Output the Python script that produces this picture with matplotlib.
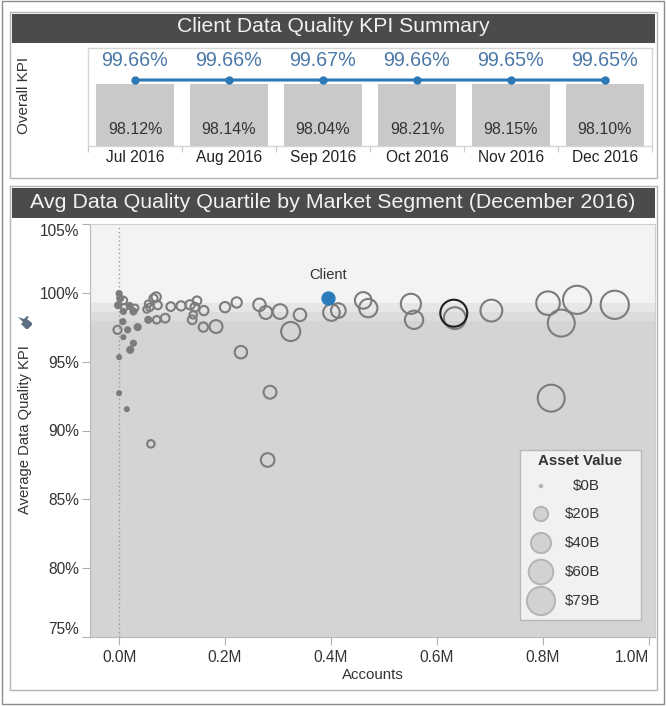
import matplotlib
matplotlib.use("Agg")
import matplotlib.pyplot as plt
from matplotlib.patches import Rectangle, Polygon
import numpy as np

plt.rcParams['font.family'] = ['Liberation Sans', 'DejaVu Sans']

# ---------------- data ----------------
months = ["Jul 2016", "Aug 2016", "Sep 2016", "Oct 2016", "Nov 2016", "Dec 2016"]
overall_kpi = [99.66, 99.66, 99.67, 99.66, 99.65, 99.65]
bar_kpi = [98.12, 98.14, 98.04, 98.21, 98.15, 98.10]

seg_accounts = [0.000, 0.002, 0.008, -0.002, 0.010, 0.020, 0.030, 0.027, 0.008, 0.055,
                0.065, 0.073, 0.058, 0.052, 0.070, 0.0975, 0.117, 0.134, 0.147, 0.143,
                0.160, 0.140, 0.138, 0.159, 0.183, 0.200, 0.222, 0.265, 0.277, 0.304,
                0.3415, 0.324, 0.230, 0.285, 0.2805, 0.060, 0.071, 0.087, 0.055, 0.035,
                0.016, -0.003, 0.007, 0.008, 0.027, 0.021, 0.000, 0.000, 0.0145, 0.461,
                0.4705, 0.401, 0.414, 0.551, 0.557, 0.634, 0.703, 0.810, 0.865, 0.835,
                0.936, 0.816]
seg_kpi = [99.95, 99.60, 99.45, 99.10, 98.95, 99.05, 98.90, 98.65, 98.65, 99.20,
           99.60, 99.10, 98.95, 98.80, 99.70, 99.00, 99.05, 99.13, 99.42, 98.96,
           98.71, 98.40, 98.04, 97.51, 97.55, 98.96, 99.30, 99.13, 98.57, 98.64,
           98.40, 97.19, 95.69, 92.78, 87.86, 89.03, 98.04, 98.16, 98.04, 97.51,
           97.31, 97.31, 97.91, 96.78, 96.34, 95.86, 95.33, 92.71, 91.55, 99.45,
           98.89, 98.57, 98.71, 99.20, 98.04, 98.16, 98.71, 99.25, 99.49, 97.80,
           99.13, 92.35]
seg_assets = [2, 3, 5, 3, 4, 3, 4, 3, 2, 4,
              6, 6, 5, 4, 8, 7, 8, 8, 7, 7,
              8, 5, 7, 8, 16, 10, 10, 15, 16, 21,
              15, 36, 15, 16, 18, 5, 5, 7, 3, 3,
              2, 6, 2, 1, 2, 3, 1, 1, 1, 27,
              33, 27, 21, 40, 33, 47, 47, 55, 79, 72,
              79, 72]
highlight_accounts = [0.632]
highlight_kpi = [98.52]
highlight_assets = [72]

client_accounts = [0.395]
client_kpi = [99.65]
client_assets = [16]

quartile_bounds = [75.0, 97.97, 98.62, 99.27, 105.0]
quartile_colors = ['#d4d4d4', '#dcdcdc', '#e6e6e6', '#f2f3f5']

legend_values = [0, 20, 40, 60, 79]
legend_labels = ["$0B", "$20B", "$40B", "$60B", "$79B"]

y_ticks = [75, 80, 85, 90, 95, 100, 105]
y_ticklabels = ["75%", "80%", "85%", "90%", "95%", "100%", "105%"]
x_ticks = [0.0, 0.2, 0.4, 0.6, 0.8, 1.0]
x_ticklabels = ["0.0M", "0.2M", "0.4M", "0.6M", "0.8M", "1.0M"]

# ---------------- layout helpers ----------------
W, H = 666, 706
fig = plt.figure(figsize=(W / 100, H / 100), dpi=100)
fig.patch.set_facecolor('white')


def fr(x0, y0, x1, y1):
    return [x0 / W, 1 - y1 / H, (x1 - x0) / W, (y1 - y0) / H]


def rect(x0, y0, x1, y1, fc='none', ec='none', lw=1.0, z=0):
    r = Rectangle((x0 / W, 1 - y1 / H), (x1 - x0) / W, (y1 - y0) / H,
                  transform=fig.transFigure, facecolor=fc, edgecolor=ec, lw=lw, zorder=z)
    fig.add_artist(r)


def ftext(x, y, s, **kw):
    fig.text(x / W, 1 - y / H, s, **kw)


def size_pts(v):
    d_px = np.sqrt(6 + 10.0 * np.asarray(v, dtype=float))
    return (d_px * 0.72) ** 2


ring_color = '#7c7c7c'

# outer frame
rect(2, 1, 664, 704, ec='#8c8c8c', lw=1.0)

# ---------------- top panel ----------------
rect(10, 12, 657, 178, ec='#b4b4b4', lw=1.0)
rect(12, 14, 655, 43, fc='#4b4b4b')
ftext(333, 27, "Client Data Quality KPI Summary", color='#f2f2f2', fontsize=15.2,
      ha='center', va='center')
ftext(24, 95, "Overall KPI", rotation=90, fontsize=11, color='#333333',
      ha='center', va='center')

axb = fig.add_axes(fr(88, 48, 652, 146))
xpos = np.arange(len(months))
axb.bar(xpos, bar_kpi, width=0.83, color='#c9c9c9', zorder=1)
axb.set_xlim(-0.5, len(months) - 0.5)
axb.set_ylim(0, 155)
axb.set_yticks([])
axb.set_xticks(np.arange(-0.5, len(months), 1.0))
axb.set_xticklabels([])
axb.tick_params(axis='x', length=4, color='#c8c8c8', direction='out')
for sp in axb.spines.values():
    sp.set_color('#d6d6d6')
    sp.set_linewidth(1.0)
for i, v in enumerate(bar_kpi):
    axb.annotate(f"{v:.2f}%", xy=(i, 0), xytext=(0, 12), textcoords='offset points',
                 ha='center', va='center', fontsize=11.5, color='#333333')
for i, m in enumerate(months):
    axb.annotate(m, xy=(i, 0), xytext=(0, -8), textcoords='offset points',
                 ha='center', va='center', fontsize=11.2, color='#222222',
                 annotation_clip=False)

axl = axb.twinx()
axl.plot(xpos, overall_kpi, color='#2b78b6', lw=2.2, marker='o', ms=5, zorder=3)
axl.set_ylim(0, 148)
axl.set_yticks([])
for sp in axl.spines.values():
    sp.set_visible(False)
for i, v in enumerate(overall_kpi):
    axl.annotate(f"{v:.2f}%", xy=(i, v), xytext=(0, 14), textcoords='offset points',
                 ha='center', va='center', fontsize=14.2, color='#4b78a8')

# ---------------- bottom panel ----------------
rect(10, 186, 657, 690, ec='#b4b4b4', lw=1.0)
rect(12, 188, 655, 218, fc='#4b4b4b')
ftext(333, 203, "Avg Data Quality Quartile by Market Segment (December 2016)",
      color='#f2f2f2', fontsize=15.4, ha='center', va='center')

ax = fig.add_axes(fr(90, 224, 655, 637))
ax.set_xlim(-0.055, 1.012)
ax.set_ylim(75, 105)
for i in range(len(quartile_colors)):
    ax.axhspan(quartile_bounds[i], quartile_bounds[i + 1], color=quartile_colors[i],
               lw=0, zorder=0)
ax.axvline(0, color='#9a9a9a', lw=1.0, ls=(0, (1, 2)), zorder=1)

face = [ring_color if a <= 3 else 'none' for a in seg_assets]
ax.scatter(seg_accounts, seg_kpi, s=size_pts(seg_assets), facecolors=face,
           edgecolors=ring_color, linewidths=1.5, zorder=3)
ax.scatter(highlight_accounts, highlight_kpi, s=size_pts(highlight_assets),
           facecolors='none', edgecolors='#1e1e1e', linewidths=1.5, zorder=4)
ax.scatter(client_accounts, client_kpi, s=size_pts(client_assets), color='#2b7cba',
           edgecolors='#2b7cba', zorder=5)
ax.annotate("Client", xy=(client_accounts[0], client_kpi[0]), xytext=(0, 16),
            textcoords='offset points', ha='center', va='center', fontsize=10.5,
            color='#333333')

ax.set_yticks(y_ticks)
ax.set_yticklabels(y_ticklabels)
ax.set_xticks(x_ticks)
ax.set_xticklabels(x_ticklabels)
ax.tick_params(axis='both', labelsize=11.2, colors='#333333', length=6, width=0.8)
ax.tick_params(axis='both', color='#b0b0b0')
ax.tick_params(axis='y', pad=2)
ylabs = ax.get_yticklabels()
ylabs[0].set_va('bottom')
ylabs[-1].set_va('top')
xlabs = ax.get_xticklabels()
xlabs[-1].set_ha('right')
for sp in ['top', 'right']:
    ax.spines[sp].set_color('#d0d0d0')
for sp in ['left', 'bottom']:
    ax.spines[sp].set_color('#b8b8b8')
ax.set_xlabel("Accounts", fontsize=10.8, color='#333333', labelpad=2)
ftext(25, 430, "Average Data Quality KPI", rotation=90, fontsize=10.6, color='#333333',
      ha='center', va='center')

# pin icon
cx, cy = 25, 323
pin_pts = [(-7, 6), (-2, 1), (-4, -1), (1, -6), (3, -6), (7, -2), (7, 0), (2, 4), (4, 6),
           (2, 7), (-1, 4)]
pin = Polygon([((cx + px) / W, 1 - (cy - py) / H) for px, py in pin_pts],
              closed=True, transform=fig.transFigure, facecolor='#5c6e82', edgecolor='none')
fig.add_artist(pin)

# size legend
rect(520, 450, 641, 620, fc='#f0f1f1', ec='#b8b8b8', lw=1.0, z=5)
axleg = fig.add_axes(fr(520, 450, 641, 620), zorder=6)
axleg.set_xlim(520, 641)
axleg.set_ylim(620, 450)
axleg.axis('off')
axleg.text(580, 461, "Asset Value", fontsize=10.8, fontweight='bold', color='#333333',
           ha='center', va='center')
leg_y = [486, 514, 543, 572, 601]
axleg.scatter([541] * len(legend_values), leg_y, s=size_pts(legend_values),
              facecolors='#d2d2d2', edgecolors='#b4b4b4', linewidths=1.4, clip_on=False)
for yy, lab in zip(leg_y, legend_labels):
    axleg.text(600, yy, lab, fontsize=10.8, color='#333333', ha='right', va='center')

fig.savefig("out.png", dpi=100, facecolor='white')
